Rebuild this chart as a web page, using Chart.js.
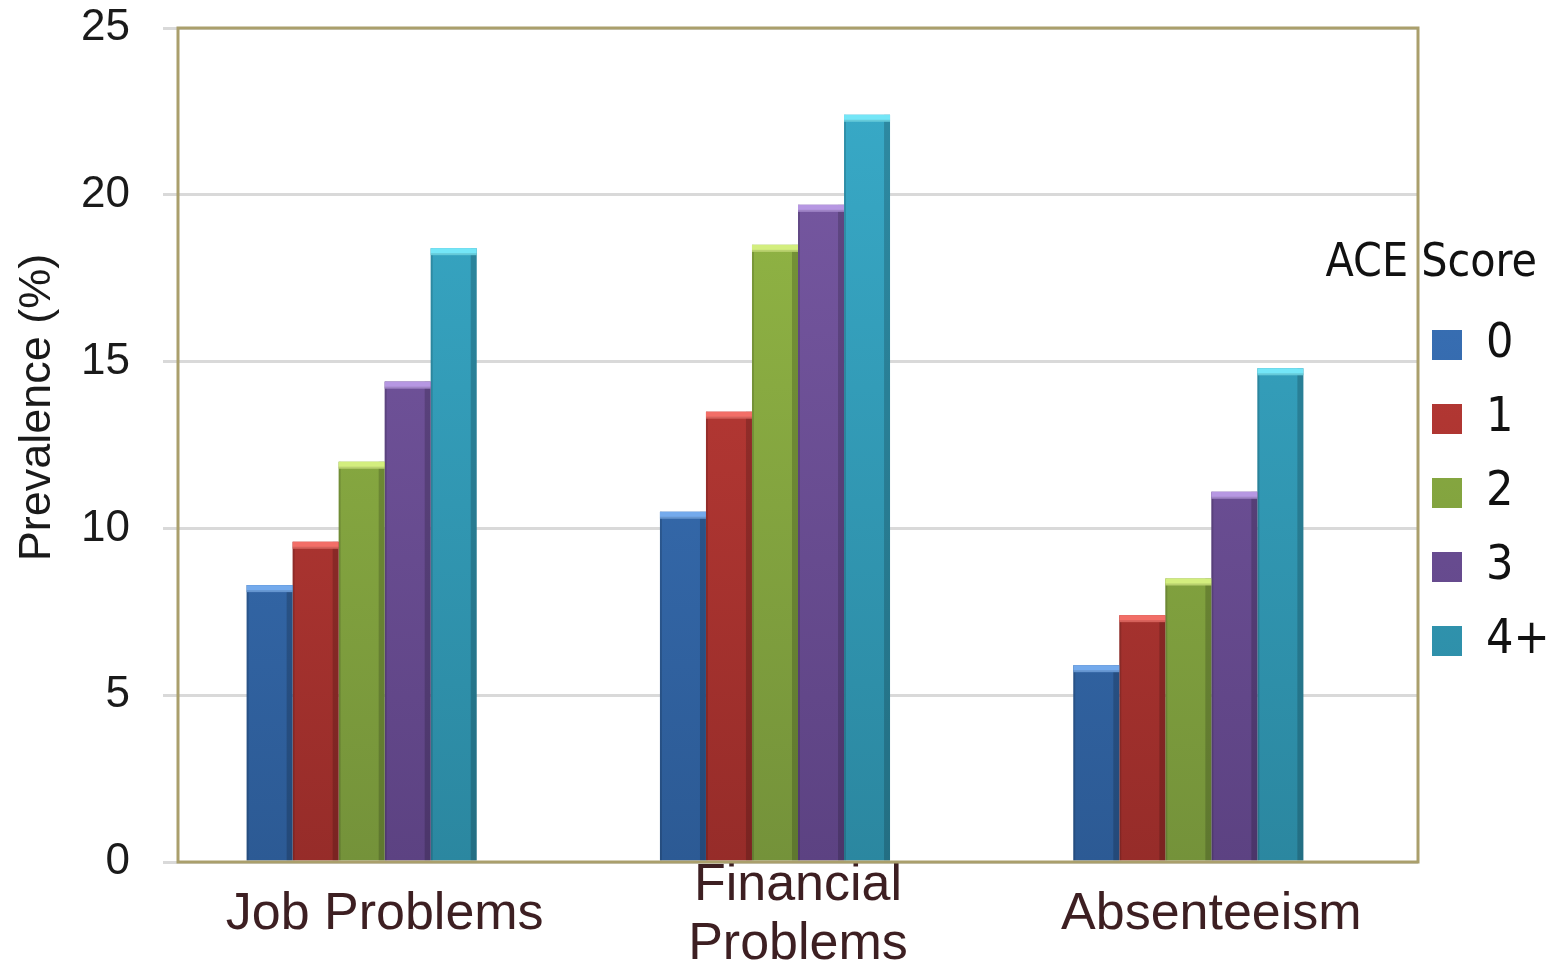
<!DOCTYPE html>
<html>
<head>
<meta charset="utf-8">
<script src="https://cdn.jsdelivr.net/npm/chart.js@4.4.0/dist/chart.umd.min.js"></script>
<style>
  body { margin: 0; background: #fff; }
  #wrap { width: 1553px; height: 965px; }
</style>
</head>
<body>
<div id="wrap"><canvas id="acechart"></canvas></div>
<script>
var categories = ['Job Problems', ['Financial', 'Problems'], 'Absenteeism'];
var scoreLabels = ['0', '1', '2', '3', '4+'];
var score0 = [8.3, 10.5, 5.9];
var score1 = [9.6, 13.5, 7.4];
var score2 = [12.0, 18.5, 8.5];
var score3 = [14.4, 19.7, 11.1];
var score4 = [18.4, 22.4, 14.8];
var yTicks = [0, 5, 10, 15, 20, 25];
var legendTitle = 'ACE Score';

// top fill, bottom fill, cap highlight for each score group
var fills = [
  ['#3d78c2', '#2c5a94', '#74aaec'],
  ['#c73f3a', '#962c29', '#f26e67'],
  ['#97bc46', '#74923a', '#d3ee7e'],
  ['#7a5ba6', '#5c4282', '#b697e2'],
  ['#39acca', '#2b87a0', '#74e6f7']
];

var sans = '"Liberation Sans", Arial, sans-serif';
var narrow = '"Liberation Sans Narrow", "DejaVu Sans Condensed", "Liberation Sans", sans-serif';

function barFill(i) {
  return function(ctx) {
    var area = ctx.chart.chartArea;
    if (!area || ctx.type !== 'data') return fills[i][0];
    var g = ctx.chart.ctx.createLinearGradient(0, area.top, 0, area.bottom);
    g.addColorStop(0, fills[i][0]);
    g.addColorStop(1, fills[i][1]);
    return g;
  };
}

var seriesData = [score0, score1, score2, score3, score4];
var datasets = seriesData.map(function(vals, i) {
  return {
    label: scoreLabels[i],
    data: vals,
    backgroundColor: barFill(i),
    borderWidth: 0
  };
});
// empty slot so each group sits a little left of its category centre
datasets.push({ label: '', data: [null, null, null], backgroundColor: 'rgba(0,0,0,0)' });

// darker side edges and lighter top cap on each bar
var barShade = {
  id: 'barShade',
  afterDatasetsDraw: function(chart) {
    var c = chart.ctx;
    for (var d = 0; d < scoreLabels.length; d++) {
      chart.getDatasetMeta(d).data.forEach(function(bar) {
        var w = bar.width, l = bar.x - w / 2, h = bar.base - bar.y;
        c.save();
        c.fillStyle = 'rgba(0,0,0,0.18)';
        c.fillRect(l + w - 6, bar.y, 6, h);
        c.fillStyle = 'rgba(0,0,0,0.14)';
        c.fillRect(l, bar.y, 2, h);
        c.fillStyle = fills[d][2];
        c.fillRect(l, bar.y, w, 7);
        c.fillStyle = 'rgba(0,0,0,0.12)';
        c.fillRect(l, bar.y + 5, w, 2);
        c.restore();
      });
    }
  }
};

// olive frame round the plot
var plotFrame = {
  id: 'plotFrame',
  afterDatasetsDraw: function(chart) {
    var a = chart.chartArea, c = chart.ctx;
    c.save();
    c.strokeStyle = '#aa9f6c';
    c.lineWidth = 3;
    c.strokeRect(a.left, a.top, a.right - a.left, a.bottom - a.top);
    c.restore();
  }
};

var legendNudge = {
  id: 'legendNudge',
  afterLayout: function(chart) {
    var lg = chart.legend;
    lg.left -= 12;
    lg.top += 48; lg.bottom += 48;
  },
  afterDraw: function(chart) {
    var lg = chart.legend, c = chart.ctx;
    var pad = lg.options.labels.padding;
    var itemsTop = (lg.top + pad + lg.bottom - lg.columnSizes[0].height) / 2;
    c.save();
    c.font = '46px ' + narrow;
    c.fillStyle = '#111';
    c.textAlign = 'right';
    c.textBaseline = 'middle';
    c.fillText(legendTitle, lg.right - 16, itemsTop + 25 - 82);
    c.restore();
  }
};

var ctx = document.getElementById('acechart').getContext('2d');
window.aceChart = new Chart(ctx, {
  type: 'bar',
  data: { labels: categories, datasets: datasets },
  plugins: [barShade, plotFrame, legendNudge],
  options: {
    responsive: true,
    maintainAspectRatio: false,
    animation: false,
    layout: { padding: { top: 0, left: 0, right: 0, bottom: 0 } },
    datasets: { bar: { barPercentage: 1, categoryPercentage: 0.668 } },
    scales: {
      x: {
        afterFit: function(s) { s.height = 103; },
        grid: { display: false, drawTicks: false },
        border: { display: false },
        ticks: {
          padding: 24,
          crossAlign: 'center',
          maxRotation: 0,
          autoSkip: false,
          color: '#3d1f22',
          font: { family: sans, size: 52, lineHeight: 1.12 }
        }
      },
      y: {
        min: 0,
        max: 25,
        afterBuildTicks: function(s) { s.ticks = yTicks.map(function(v) { return { value: v }; }); },
        afterFit: function(s) { s.width = 178; s.paddingTop = 28; s.paddingBottom = 0; },
        grid: { color: '#d9d9d9', lineWidth: 3, tickLength: 15, tickColor: '#d9d9d9' },
        border: { display: false },
        ticks: { padding: 33, color: '#1a1a1a', font: { family: sans, size: 44 } },
        title: {
          display: true,
          text: '      Prevalence (%)',
          color: '#1a1a1a',
          font: { family: sans, size: 45 },
          padding: { top: 11, bottom: 0 }
        }
      }
    },
    plugins: {
      legend: {
        position: 'right',
        fullSize: false,
        maxWidth: 135,
        labels: {
          boxWidth: 30,
          boxHeight: 30,
          padding: 26,
          color: '#111',
          font: { family: narrow, size: 48 },
          filter: function(item) { return item.text !== ''; }
        }
      },
      title: { display: false },
      tooltip: { filter: function(item) { return item.dataset.label !== ''; } }
    }
  }
});
</script>
</body>
</html>
